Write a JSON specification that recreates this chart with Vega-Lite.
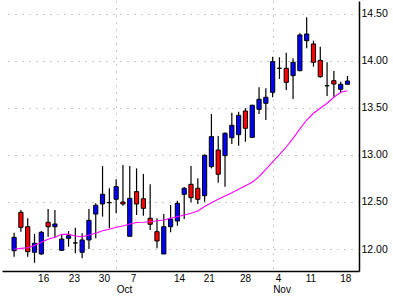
{
  "$schema": "https://vega.github.io/schema/vega-lite/v6.json",
  "width": 357,
  "height": 270,
  "autosize": {"type": "none"},
  "padding": {"left": 2, "top": 1, "right": 34, "bottom": 25},
  "background": "white",
  "config": {
    "view": {"stroke": null},
    "font": "Liberation Sans",
    "axis": {"labelFont": "Liberation Sans", "labelFontSize": 10.5, "labelColor": "black", "ticks": false, "labelFlush": false, "labelOverlap": false, "labelBound": false}
  },
  "data": {
    "values": [
      {"i": 0, "date": "2002-09-10", "open": 11.982, "high": 12.173, "low": 11.918, "close": 12.124, "ma": 11.997},
      {"i": 1, "date": "2002-09-11", "open": 12.390, "high": 12.415, "low": 12.184, "close": 12.231, "ma": 12.007},
      {"i": 2, "date": "2002-09-12", "open": 12.237, "high": 12.327, "low": 11.918, "close": 11.971, "ma": 12.014},
      {"i": 3, "date": "2002-09-13", "open": 11.965, "high": 12.160, "low": 11.854, "close": 12.061, "ma": 12.037},
      {"i": 4, "date": "2002-09-16", "open": 11.947, "high": 12.191, "low": 11.936, "close": 12.178, "ma": 12.071},
      {"i": 5, "date": "2002-09-17", "open": 12.284, "high": 12.426, "low": 12.131, "close": 12.237, "ma": 12.103},
      {"i": 6, "date": "2002-09-18", "open": 12.237, "high": 12.415, "low": 12.120, "close": 12.266, "ma": 12.124},
      {"i": 7, "date": "2002-09-19", "open": 11.986, "high": 12.156, "low": 11.979, "close": 12.106, "ma": 12.156},
      {"i": 8, "date": "2002-09-20", "open": 12.114, "high": 12.191, "low": 12.024, "close": 12.141, "ma": 12.156},
      {"i": 9, "date": "2002-09-23", "open": 12.065, "high": 12.227, "low": 11.954, "close": 12.065, "ma": 12.138},
      {"i": 10, "date": "2002-09-24", "open": 11.965, "high": 12.167, "low": 11.901, "close": 12.096, "ma": 12.131},
      {"i": 11, "date": "2002-09-25", "open": 12.096, "high": 12.426, "low": 12.000, "close": 12.305, "ma": 12.149},
      {"i": 12, "date": "2002-09-26", "open": 12.372, "high": 12.486, "low": 12.114, "close": 12.465, "ma": 12.167},
      {"i": 13, "date": "2002-09-27", "open": 12.479, "high": 12.883, "low": 12.344, "close": 12.582, "ma": 12.195},
      {"i": 14, "date": "2002-09-30", "open": 12.493, "high": 12.646, "low": 12.220, "close": 12.493, "ma": 12.210},
      {"i": 15, "date": "2002-10-01", "open": 12.529, "high": 12.741, "low": 12.380, "close": 12.663, "ma": 12.231},
      {"i": 16, "date": "2002-10-02", "open": 12.500, "high": 12.894, "low": 12.461, "close": 12.479, "ma": 12.245},
      {"i": 17, "date": "2002-10-03", "open": 12.135, "high": 12.883, "low": 12.135, "close": 12.539, "ma": 12.266},
      {"i": 18, "date": "2002-10-04", "open": 12.610, "high": 12.858, "low": 12.362, "close": 12.479, "ma": 12.282},
      {"i": 19, "date": "2002-10-07", "open": 12.535, "high": 12.798, "low": 12.354, "close": 12.433, "ma": 12.284},
      {"i": 20, "date": "2002-10-08", "open": 12.327, "high": 12.688, "low": 12.202, "close": 12.263, "ma": 12.290},
      {"i": 21, "date": "2002-10-09", "open": 12.184, "high": 12.327, "low": 12.007, "close": 12.085, "ma": 12.301},
      {"i": 22, "date": "2002-10-10", "open": 11.947, "high": 12.372, "low": 11.947, "close": 12.237, "ma": 12.309},
      {"i": 23, "date": "2002-10-11", "open": 12.237, "high": 12.468, "low": 12.178, "close": 12.319, "ma": 12.327},
      {"i": 24, "date": "2002-10-14", "open": 12.298, "high": 12.514, "low": 12.248, "close": 12.486, "ma": 12.344},
      {"i": 25, "date": "2002-10-15", "open": 12.582, "high": 12.660, "low": 12.319, "close": 12.646, "ma": 12.362},
      {"i": 26, "date": "2002-10-16", "open": 12.688, "high": 12.883, "low": 12.497, "close": 12.546, "ma": 12.380},
      {"i": 27, "date": "2002-10-17", "open": 12.646, "high": 12.752, "low": 12.479, "close": 12.529, "ma": 12.404},
      {"i": 28, "date": "2002-10-18", "open": 12.567, "high": 13.005, "low": 12.503, "close": 12.997, "ma": 12.452},
      {"i": 29, "date": "2002-10-21", "open": 12.876, "high": 13.436, "low": 12.858, "close": 13.195, "ma": 12.493},
      {"i": 30, "date": "2002-10-22", "open": 13.053, "high": 13.202, "low": 12.705, "close": 12.795, "ma": 12.529},
      {"i": 31, "date": "2002-10-23", "open": 12.993, "high": 13.240, "low": 12.663, "close": 13.231, "ma": 12.564},
      {"i": 32, "date": "2002-10-24", "open": 13.184, "high": 13.450, "low": 13.117, "close": 13.316, "ma": 12.599},
      {"i": 33, "date": "2002-10-25", "open": 13.216, "high": 13.461, "low": 13.099, "close": 13.422, "ma": 12.635},
      {"i": 34, "date": "2002-10-28", "open": 13.468, "high": 13.497, "low": 13.141, "close": 13.284, "ma": 12.673},
      {"i": 35, "date": "2002-10-29", "open": 13.188, "high": 13.535, "low": 13.180, "close": 13.529, "ma": 12.710},
      {"i": 36, "date": "2002-10-30", "open": 13.486, "high": 13.720, "low": 13.436, "close": 13.593, "ma": 12.769},
      {"i": 37, "date": "2002-10-31", "open": 13.550, "high": 13.710, "low": 13.372, "close": 13.614, "ma": 12.846},
      {"i": 38, "date": "2002-11-01", "open": 13.667, "high": 14.046, "low": 13.614, "close": 13.993, "ma": 12.926},
      {"i": 39, "date": "2002-11-04", "open": 13.922, "high": 14.039, "low": 13.809, "close": 13.922, "ma": 13.005},
      {"i": 40, "date": "2002-11-05", "open": 13.922, "high": 14.088, "low": 13.691, "close": 13.773, "ma": 13.085},
      {"i": 41, "date": "2002-11-06", "open": 13.844, "high": 14.029, "low": 13.596, "close": 13.986, "ma": 13.176},
      {"i": 42, "date": "2002-11-07", "open": 13.897, "high": 14.295, "low": 13.890, "close": 14.277, "ma": 13.277},
      {"i": 43, "date": "2002-11-08", "open": 14.216, "high": 14.465, "low": 14.135, "close": 14.287, "ma": 13.372},
      {"i": 44, "date": "2002-11-11", "open": 14.181, "high": 14.216, "low": 13.940, "close": 13.986, "ma": 13.444},
      {"i": 45, "date": "2002-11-12", "open": 14.007, "high": 14.152, "low": 13.822, "close": 13.833, "ma": 13.497},
      {"i": 46, "date": "2002-11-13", "open": 13.737, "high": 13.986, "low": 13.628, "close": 13.737, "ma": 13.550},
      {"i": 47, "date": "2002-11-14", "open": 13.790, "high": 13.894, "low": 13.620, "close": 13.755, "ma": 13.614},
      {"i": 48, "date": "2002-11-15", "open": 13.699, "high": 13.780, "low": 13.656, "close": 13.752, "ma": 13.667},
      {"i": 49, "date": "2002-11-18", "open": 13.752, "high": 13.840, "low": 13.752, "close": 13.787, "ma": 13.684}
    ]
  },
  "layer": [
    {
      "mark": {"type": "rule", "color": "black", "strokeWidth": 1.2},
      "encoding": {
        "x": {
          "field": "i", "type": "quantitative", "title": null,
          "scale": {"domain": [-1.043, 49.957], "nice": false, "zero": false},
          "axis": {
            "orient": "bottom",
            "values": [4.27, 8.79, 13.2, 17.49, 24.24, 28.6, 33.93, 38.79, 43.56, 48.67],
            "labelExpr": "['16','23','30','7','14','21','28','4','11','18'][indexof([4.27, 8.79, 13.2, 17.49, 24.24, 28.6, 33.93, 38.79, 43.56, 48.67], datum.value)]",
            "grid": false, "domain": true, "domainColor": "black", "domainWidth": 1.5, "labelPadding": 2, "labelFontSize": 10
          }
        },
        "y": {
          "field": "low", "type": "quantitative", "title": null,
          "scale": {"domain": [11.766, 14.638], "nice": false, "zero": false},
          "axis": {
            "orient": "right",
            "values": [12, 12.25, 12.5, 12.75, 13, 13.25, 13.5, 13.75, 14, 14.25, 14.5],
            "labelExpr": "datum.value % 0.5 == 0 ? format(datum.value, '.2f') : ''",
            "grid": true, "gridColor": "#8c8c8c", "gridDash": [1, 6], "gridWidth": 1,
            "domain": true, "domainColor": "black", "domainWidth": 1.5, "labelPadding": 2
          }
        },
        "y2": {"field": "high"}
      }
    },
    {
      "mark": {"type": "bar", "width": 4.2, "stroke": "black", "strokeWidth": 1},
      "encoding": {
        "x": {"field": "i", "type": "quantitative", "axis": null},
        "y": {"field": "open", "type": "quantitative", "title": null},
        "y2": {"field": "close"},
        "fill": {
          "condition": [
            {"test": "datum.close > datum.open", "value": "#0000ff"},
            {"test": "datum.close < datum.open", "value": "#ff0000"}
          ],
          "value": "black"
        }
      }
    },
    {
      "mark": {"type": "line", "color": "#ff00ff", "strokeWidth": 1.1},
      "encoding": {
        "x": {
          "field": "i", "type": "quantitative", "title": null,
          "axis": {
            "orient": "bottom",
            "values": [15, 38],
            "labelExpr": "datum.value == 15 ? 'Oct' : 'Nov'",
            "labelAlign": "left", "labelPadding": 13.5, "labelFontSize": 10,
            "grid": true, "gridColor": "#8c8c8c", "gridDash": [1, 6], "gridWidth": 1,
            "domain": false
          }
        },
        "y": {"field": "ma", "type": "quantitative", "title": null}
      }
    }
  ],
  "resolve": {"axis": {"x": "independent"}}
}
